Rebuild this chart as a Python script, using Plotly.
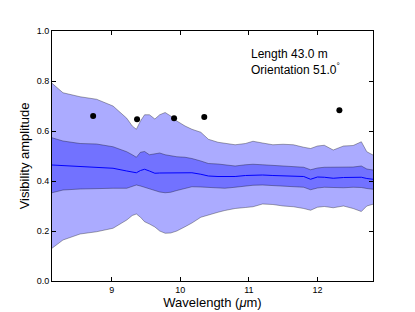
import plotly.graph_objects as go

wavelength = [8.13, 8.29, 8.54, 8.78, 9.02, 9.22, 9.30, 9.36, 9.42, 9.48, 9.55, 9.63, 9.70, 9.78,
              9.86, 9.95, 10.07, 10.17, 10.30, 10.41, 10.55, 10.65, 10.80, 10.95, 11.06, 11.20,
              11.35, 11.50, 11.65, 11.80, 11.90, 12.00, 12.10, 12.23, 12.38, 12.52, 12.64, 12.72, 12.81]

outer_upper = [0.791, 0.753, 0.737, 0.727, 0.700, 0.651, 0.620, 0.607, 0.640, 0.665, 0.665, 0.648, 0.665, 0.674,
               0.660, 0.640, 0.620, 0.607, 0.595, 0.567, 0.555, 0.550, 0.545, 0.550, 0.559, 0.552,
               0.545, 0.547, 0.545, 0.535, 0.530, 0.540, 0.543, 0.524, 0.540, 0.542, 0.557, 0.517, 0.504]

inner_upper = [0.573, 0.560, 0.550, 0.548, 0.537, 0.517, 0.505, 0.495, 0.515, 0.518, 0.505, 0.510, 0.512, 0.505,
               0.500, 0.497, 0.495, 0.490, 0.480, 0.470, 0.468, 0.466, 0.460, 0.465, 0.467, 0.465,
               0.462, 0.460, 0.458, 0.455, 0.445, 0.452, 0.455, 0.455, 0.453, 0.456, 0.460, 0.448, 0.444]

mean_vis = [0.464, 0.462, 0.459, 0.457, 0.451, 0.440, 0.435, 0.433, 0.442, 0.447, 0.440, 0.431, 0.432, 0.432,
            0.431, 0.432, 0.433, 0.433, 0.427, 0.420, 0.418, 0.417, 0.418, 0.422, 0.424, 0.424,
            0.422, 0.420, 0.420, 0.418, 0.407, 0.416, 0.415, 0.411, 0.414, 0.416, 0.415, 0.410, 0.407]

inner_lower = [0.353, 0.364, 0.368, 0.371, 0.371, 0.371, 0.378, 0.384, 0.380, 0.375, 0.370, 0.362, 0.356, 0.353,
               0.355, 0.362, 0.370, 0.377, 0.376, 0.374, 0.371, 0.371, 0.375, 0.380, 0.383, 0.384,
               0.381, 0.379, 0.378, 0.375, 0.365, 0.372, 0.375, 0.374, 0.373, 0.375, 0.374, 0.370, 0.367]

outer_lower = [0.131, 0.164, 0.188, 0.197, 0.211, 0.244, 0.262, 0.268, 0.255, 0.237, 0.228, 0.216, 0.200, 0.191,
               0.192, 0.200, 0.217, 0.232, 0.255, 0.265, 0.275, 0.282, 0.290, 0.294, 0.297, 0.308,
               0.306, 0.300, 0.297, 0.290, 0.283, 0.295, 0.298, 0.293, 0.300, 0.290, 0.278, 0.300, 0.307]

obs_wavelength = [8.73, 9.37, 9.91, 10.35, 12.32]
obs_vis = [0.660, 0.647, 0.651, 0.656, 0.683]

y_ticks = [0.0, 0.2, 0.4, 0.6, 0.8, 1.0]
x_ticks = [9, 10, 11, 12]

fill_col = "rgba(0,0,255,0.33)"
edge_col = "rgba(0,0,0,0.33)"

fig = go.Figure()
fig.add_trace(go.Scatter(x=wavelength, y=outer_upper, mode="lines",
                         line=dict(color=edge_col, width=1), hoverinfo="skip", showlegend=False))
fig.add_trace(go.Scatter(x=wavelength, y=outer_lower, mode="lines", fill="tonexty", fillcolor=fill_col,
                         line=dict(color=edge_col, width=1), hoverinfo="skip", showlegend=False))
fig.add_trace(go.Scatter(x=wavelength, y=inner_upper, mode="lines",
                         line=dict(color=edge_col, width=1), hoverinfo="skip", showlegend=False))
fig.add_trace(go.Scatter(x=wavelength, y=inner_lower, mode="lines", fill="tonexty", fillcolor=fill_col,
                         line=dict(color=edge_col, width=1), hoverinfo="skip", showlegend=False))
fig.add_trace(go.Scatter(x=wavelength, y=mean_vis, mode="lines",
                         line=dict(color="#0000ff", width=1), showlegend=False))
fig.add_trace(go.Scatter(x=obs_wavelength, y=obs_vis, mode="markers",
                         marker=dict(color="black", size=6), showlegend=False))

font_family = "Liberation Sans, Arial, sans-serif"

fig.update_layout(
    template="none",
    width=415, height=312,
    margin=dict(l=52, r=42, t=31, b=31, autoexpand=False),
    paper_bgcolor="white", plot_bgcolor="white",
    font=dict(family=font_family, color="black"),
    annotations=[dict(
        x=0.614, y=0.945, xref="paper", yref="paper", xanchor="left", yanchor="top",
        align="left", showarrow=False,
        text="Length 43.0 m<br>Orientation 51.0<sup>°</sup>",
        font=dict(size=12, family=font_family, color="black"),
    )],
)
fig.update_xaxes(
    range=[8.13, 12.81], tickvals=x_ticks, ticktext=[str(t) for t in x_ticks],
    ticks="inside", ticklen=4, tickcolor="black", showline=True, linecolor="black", linewidth=1,
    mirror="ticks", showgrid=False, zeroline=False, tickfont=dict(size=9), automargin=False,
    title=dict(text="Wavelength (<i>μ</i>m)", font=dict(size=13), standoff=2),
)
fig.update_yaxes(
    range=[0, 1.0], tickvals=y_ticks, ticktext=[f"{t:.1f}" for t in y_ticks],
    ticks="inside", ticklen=4, tickcolor="black", showline=True, linecolor="black", linewidth=1,
    mirror="ticks", showgrid=False, zeroline=False, tickfont=dict(size=9), automargin=False,
    title=dict(text="Visibility amplitude", font=dict(size=13), standoff=4),
)

fig.write_html("out.html", config={"displayModeBar": False},
               post_script="document.body.style.margin='0';document.body.style.overflow='hidden';")
